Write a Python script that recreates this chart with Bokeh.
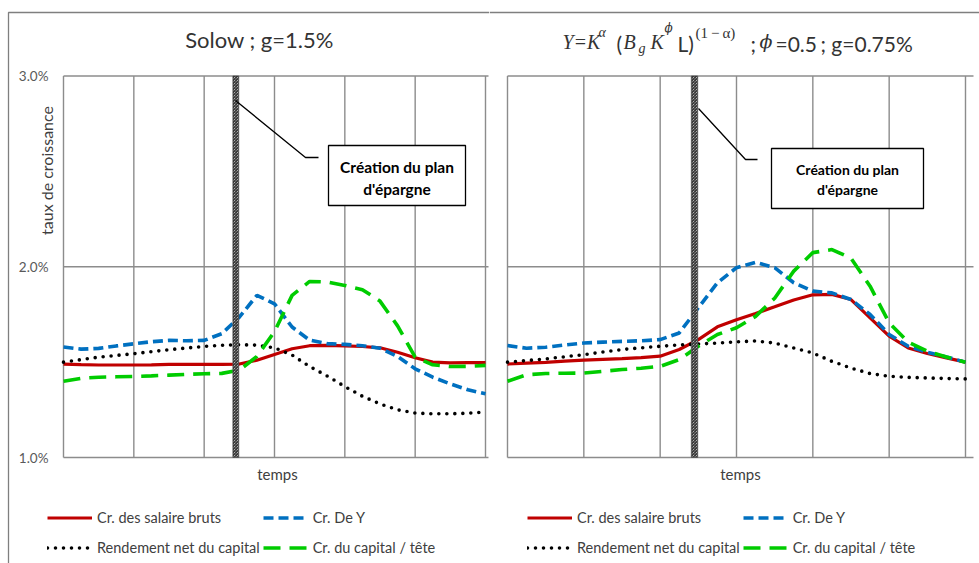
import math
from bokeh.plotting import figure
from bokeh.models import Label, Legend, LegendItem, BoxAnnotation, Range1d
from bokeh.layouts import row
from bokeh.embed import file_html
from bokeh.resources import INLINE

# ---------------- data ----------------
t = [0, 0.25, 0.5, 0.75, 1, 1.25, 1.5, 1.75, 2, 2.25, 2.5, 2.75, 3,
     3.25, 3.5, 3.75, 4, 4.25, 4.5, 4.75, 5, 5.25, 5.5, 5.75, 6]
event_t = 2.45
x_grid = [0, 1, 2, 3, 4, 5, 6]
y_ticks = [1.0, 2.0, 3.0]
y_tick_labels = ["1.0%", "2.0%", "3.0%"]

# Solow ; g=1.5%
solow_salaire = [1.490, 1.487, 1.485, 1.485, 1.485, 1.486, 1.488, 1.488, 1.488, 1.488,
                 1.490, 1.510, 1.540, 1.570, 1.586, 1.588, 1.585, 1.582, 1.575, 1.552,
                 1.523, 1.500, 1.496, 1.497, 1.497]
solow_Y = [1.579, 1.568, 1.572, 1.585, 1.596, 1.607, 1.614, 1.612, 1.614, 1.649,
           1.736, 1.850, 1.806, 1.684, 1.615, 1.597, 1.593, 1.586, 1.573, 1.530,
           1.465, 1.421, 1.386, 1.355, 1.334]
solow_rendement = [1.500, 1.513, 1.526, 1.535, 1.544, 1.555, 1.565, 1.574, 1.582, 1.588,
                   1.591, 1.589, 1.575, 1.537, 1.477, 1.427, 1.372, 1.321, 1.281, 1.250,
                   1.233, 1.229, 1.229, 1.232, 1.238]
solow_capital = [1.400, 1.415, 1.421, 1.423, 1.425, 1.428, 1.432, 1.436, 1.439, 1.441,
                 1.458, 1.530, 1.660, 1.850, 1.923, 1.920, 1.902, 1.880, 1.820, 1.690,
                 1.526, 1.486, 1.477, 1.478, 1.483]

# Y=K^a (B_g K^phi L)^(1-a) ; phi=0.5 ; g=0.75%
endo_salaire = [1.490, 1.495, 1.499, 1.505, 1.510, 1.514, 1.518, 1.524, 1.531, 1.566,
                1.618, 1.685, 1.722, 1.755, 1.790, 1.826, 1.853, 1.855, 1.828, 1.732,
                1.636, 1.574, 1.545, 1.522, 1.500]
endo_Y = [1.587, 1.573, 1.578, 1.590, 1.600, 1.605, 1.609, 1.612, 1.618, 1.653,
          1.785, 1.916, 1.995, 2.023, 1.995, 1.916, 1.872, 1.863, 1.828, 1.750,
          1.645, 1.583, 1.552, 1.527, 1.500]
endo_rendement = [1.500, 1.508, 1.517, 1.528, 1.539, 1.553, 1.566, 1.575, 1.583, 1.590,
                  1.595, 1.600, 1.606, 1.611, 1.600, 1.574, 1.548, 1.504, 1.469, 1.440,
                  1.426, 1.420, 1.417, 1.414, 1.412]
endo_capital = [1.400, 1.434, 1.440, 1.442, 1.443, 1.452, 1.461, 1.468, 1.478, 1.513,
                1.583, 1.645, 1.680, 1.740, 1.835, 1.977, 2.074, 2.090, 2.045, 1.898,
                1.706, 1.605, 1.557, 1.527, 1.499]

series_names = ["Cr. des salaire bruts", "Cr. De Y",
                "Rendement net du capital", "Cr. du capital / tête"]

FONT = "Lato"
MATH = "Liberation Serif"
PHI = "DejaVu Serif"
GRID = "#8c8c8c"

# ---------------- geometry (page pixels) ----------------
H = 563
Y_TOP_PX, Y_BOT_PX = 75.5, 457.0          # 3.0% and 1.0%
PPV = (Y_BOT_PX - Y_TOP_PX) / 2.0           # pixels per 1 %


def make_panel(canvas_left, width, reg_left, reg_right):
    ppu = (reg_right - reg_left) / 6.0
    xr = Range1d((canvas_left - reg_left) / ppu, (canvas_left + width - reg_left) / ppu)
    yr = Range1d(1.0 - (H - Y_BOT_PX) / PPV, 3.0 + Y_TOP_PX / PPV)
    p = figure(width=width, height=H, output_backend="svg", toolbar_location=None,
               x_range=xr, y_range=yr, min_border=0,
               min_border_left=0, min_border_right=0, min_border_top=0,
               min_border_bottom=0, background_fill_color="white",
               border_fill_color="white")
    p.xaxis.visible = False
    p.yaxis.visible = False
    p.grid.visible = False
    p.outline_line_color = None

    def tx(px):
        return (px - reg_left) / ppu

    def vy(py):
        return 3.0 - (py - Y_TOP_PX) / PPV

    return p, tx, vy


def draw_grid(p, tx, extra_px):
    x_end = x_grid[-1] + tx(extra_px) - tx(0)
    p.segment(x0=x_grid, x1=x_grid, y0=[y_ticks[0]] * len(x_grid),
              y1=[y_ticks[-1]] * len(x_grid), line_color=GRID, line_width=1.4)
    p.segment(x0=[x_grid[0]] * len(y_ticks), x1=[x_end] * len(y_ticks),
              y0=y_ticks, y1=y_ticks, line_color=GRID, line_width=1.4)


def draw_series(p, sal, yy, ren, cap):
    r_sal = p.line(t, sal, line_color="#C00000", line_width=3.2)
    r_y = p.line(t, yy, line_color="#0070C0", line_width=3.6, line_dash="10 5")
    r_ren = p.line(t, ren, line_color="black", line_width=3.6, line_dash="0 8",
                   line_cap="round")
    r_cap = p.line(t, cap, line_color="#00CC00", line_width=3.6, line_dash="17 9")
    # hatched "création du plan" marker
    p.vbar(x=[event_t], top=[y_ticks[-1]], bottom=[y_ticks[0]], width=0.085,
           fill_color="white", hatch_pattern="\\", hatch_color="#1a1a1a",
           hatch_scale=3.0, hatch_weight=1.05, line_color="#333333", line_width=0.5)
    return [r_sal, r_y, r_ren, r_cap]


def add_callout(p, tx, vy, pts, box, lines_y, size):
    xs = [tx(a) for a, b in pts]
    ys = [vy(b) for a, b in pts]
    p.line(xs, ys, line_color="black", line_width=1.3)
    l, r, tp, bt = box
    p.add_layout(BoxAnnotation(left=tx(l), right=tx(r), top=vy(tp), bottom=vy(bt),
                               fill_color="white", fill_alpha=1.0,
                               line_color="black", line_alpha=1.0, line_width=1.3,
                               level="overlay"))
    cx = tx((l + r) / 2)
    for txt, py in zip(["Création du plan", "d'épargne"], lines_y):
        p.add_layout(Label(x=cx, y=vy(py), text=txt, text_align="center",
                           text_baseline="middle", text_font=FONT,
                           text_font_size=size, text_font_style="bold",
                           text_color="black", level="overlay"))


def add_text(p, x, y, txt, size, color="#404040", align="center",
             baseline="middle", font=FONT, style="normal", angle=0.0):
    p.add_layout(Label(x=x, y=y, text=txt, text_align=align, text_baseline=baseline,
                       text_font=font, text_font_size=size, text_font_style=style,
                       text_color=color, angle=angle))


def add_legend(p, renderers, canvas_left, glyph_left_px):
    items = [LegendItem(label=series_names[i], renderers=[renderers[i]])
             for i in range(4)]
    leg_h = 27 * 2 + 3
    leg = Legend(items=items, location=(glyph_left_px - canvas_left, H - 503.5 - leg_h),
                 ncols=2, orientation="horizontal",
                 glyph_width=45, glyph_height=27, label_height=27, label_standoff=5,
                 spacing=3, padding=0, margin=0, border_line_color=None,
                 background_fill_alpha=0, label_text_font=FONT,
                 label_text_font_size="14.5px", label_text_color="#404040")
    p.add_layout(leg, "center")


# ---------------- left panel ----------------
p1, tx1, vy1 = make_panel(0, 489, 63, 485)
# outer frame of the picture (left and top edges)
p1.line([tx1(8), tx1(8), tx1(489)], [vy1(H), vy1(12), vy1(12)],
        line_color="#7f7f7f", line_width=1.3)
draw_grid(p1, tx1, 3)
rs1 = draw_series(p1, solow_salaire, solow_Y, solow_rendement, solow_capital)
add_callout(p1, tx1, vy1, [(235, 100), (305, 157), (318, 157)],
            (328, 465, 145, 205), [166, 188], "15.5px")
p1.text(x=[tx1(48)] * len(y_ticks), y=y_ticks, text=y_tick_labels, text_align="right",
        text_baseline="middle", text_font_size="13.5px", text_color="#595959",
        text_font={"value": FONT})
add_text(p1, tx1(259), vy1(39), "Solow ; g=1.5%", "22px", color="#333333")
add_text(p1, tx1(46), vy1(170), "taux de croissance", "16px", angle=math.pi / 2)
add_text(p1, tx1(277), vy1(473), "temps", "15px")
add_legend(p1, rs1, 0, 47)

# ---------------- right panel ----------------
p2, tx2, vy2 = make_panel(489, 490, 507, 965)
p2.line([tx2(489), tx2(979)], [vy2(12), vy2(12)], line_color="#7f7f7f", line_width=1.3)
draw_grid(p2, tx2, 8)
rs2 = draw_series(p2, endo_salaire, endo_Y, endo_rendement, endo_capital)
add_callout(p2, tx2, vy2, [(698, 108), (745, 159), (757, 159)],
            (771, 923, 148, 208), [169, 189], "14px")
add_text(p2, tx2(740), vy2(473), "temps", "15px")
add_legend(p2, rs2, 489, 527)

# title built from pieces (italic math, superscripts, subscript); y = em-box top
pieces = [
    ("Y=K", 562, 30, MATH, "20px", "italic"),
    ("α", 598, 24, MATH, "14px", "italic"),
    ("(", 616, 30, FONT, "21px", "normal"),
    ("B", 623, 30, MATH, "20px", "italic"),
    ("g", 638, 40, MATH, "14px", "italic"),
    ("K", 650, 30, MATH, "20px", "italic"),
    ("ϕ", 664, 20, PHI, "12px", "italic"),
    ("L)", 677, 30, FONT, "21px", "normal"),
    ("(1\u2009−\u2009α)", 695, 24, MATH, "15px", "normal"),
    (";", 750, 30, FONT, "21px", "normal"),
    ("ϕ", 759, 29, PHI, "19px", "italic"),
    ("=0.5", 775, 30, FONT, "21px", "normal"),
    ("; g=0.75%", 820, 30, FONT, "21px", "normal"),
]
for txt, px, py, fnt, size, style in pieces:
    add_text(p2, tx2(px), vy2(py), txt, size, color="#333333", align="left",
             baseline="top", font=fnt, style=style)

layout = row(p1, p2)
open("out.html", "w").write(file_html(layout, INLINE))
